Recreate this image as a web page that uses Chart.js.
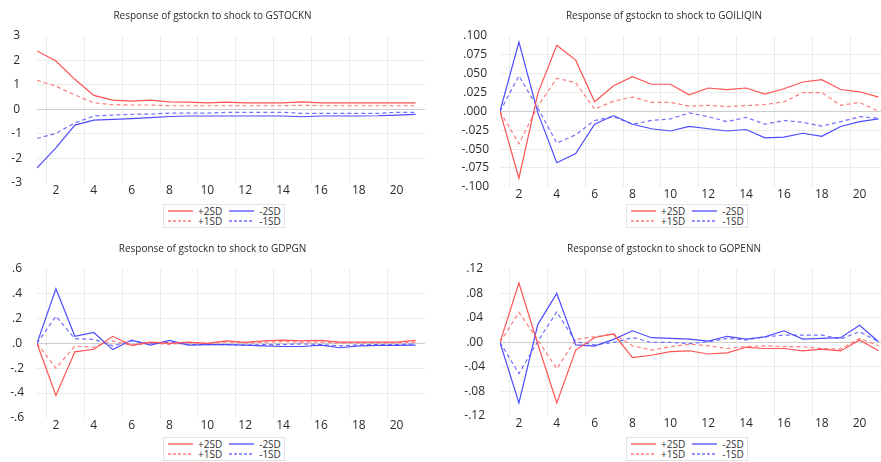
<!DOCTYPE html>
<html>
<head>
<meta charset="utf-8">
<title>Response of gstockn to shocks</title>
<script src="https://cdn.jsdelivr.net/npm/chart.js@4.4.1/dist/chart.umd.min.js"></script>
<style>
    body { margin: 0; background: #fff; font-family: "Open Sans", sans-serif; }
    #page { position: relative; width: 881px; height: 462px; overflow: hidden; }
    .panel { position: absolute; height: 230px; }
    .chart-box { position: relative; width: 100%; height: 205px; }
    .legend {
        position: absolute; top: 204px;
        border: 1px solid #e3e3e3; padding: 1px 3px 1px 4px; background: #fff;
        display: grid; grid-template-columns: auto auto; column-gap: 7px;
        font-size: 10px; line-height: 10px; color: #333;
    }
    .legend-item { display: flex; align-items: center; white-space: nowrap; }
    .legend-item svg { margin-right: 5px; }
</style>
</head>
<body>
<div id="page">
    <div class="panel" style="left:0;top:0;width:450px;">
        <div class="chart-box"><canvas id="chartStock"></canvas></div>
        <div class="legend" id="legendStock" style="left:163px;"></div>
    </div>
    <div class="panel" style="left:440px;top:0;width:498px;">
        <div class="chart-box"><canvas id="chartOil"></canvas></div>
        <div class="legend" id="legendOil" style="left:186px;"></div>
    </div>
    <div class="panel" style="left:0;top:233px;width:450px;">
        <div class="chart-box"><canvas id="chartGdp"></canvas></div>
        <div class="legend" id="legendGdp" style="left:163px;"></div>
    </div>
    <div class="panel" style="left:440px;top:233px;width:498px;">
        <div class="chart-box"><canvas id="chartOpen"></canvas></div>
        <div class="legend" id="legendOpen" style="left:186px;"></div>
    </div>
</div>

<script>
// periods (horizon)
const periods = [1, 2, 3, 4, 5, 6, 7, 8, 9, 10, 11, 12, 13, 14, 15, 16, 17, 18, 19, 20, 21];

// Response to GSTOCKN
const stockUp2 = [2.39, 1.98, 1.23, 0.57, 0.38, 0.34, 0.38, 0.31, 0.30, 0.27, 0.30, 0.27, 0.27, 0.27, 0.31, 0.27, 0.27, 0.27, 0.27, 0.27, 0.27];
const stockUp1 = [1.19, 0.95, 0.59, 0.27, 0.19, 0.18, 0.18, 0.15, 0.15, 0.15, 0.15, 0.15, 0.15, 0.15, 0.17, 0.15, 0.15, 0.15, 0.15, 0.15, 0.15];
const stockDn1 = [-1.19, -0.98, -0.55, -0.27, -0.23, -0.20, -0.19, -0.15, -0.15, -0.15, -0.12, -0.12, -0.12, -0.12, -0.16, -0.16, -0.16, -0.16, -0.16, -0.12, -0.12];
const stockDn2 = [-2.39, -1.57, -0.64, -0.44, -0.41, -0.38, -0.34, -0.29, -0.27, -0.27, -0.27, -0.27, -0.27, -0.27, -0.30, -0.27, -0.27, -0.27, -0.26, -0.23, -0.20];

// Response to GOILIQIN
const oilUp2 = [0, -0.0886, 0.024, 0.0877, 0.068, 0.0127, 0.034, 0.046, 0.036, 0.036, 0.022, 0.031, 0.029, 0.031, 0.023, 0.030, 0.039, 0.042, 0.029, 0.026, 0.019];
const oilUp1 = [0, -0.043, 0.007, 0.044, 0.038, 0.003, 0.0136, 0.019, 0.012, 0.012, 0.007, 0.008, 0.0064, 0.0077, 0.009, 0.0127, 0.025, 0.025, 0.008, 0.012, 0];
const oilDn1 = [0, 0.047, 0.0045, -0.042, -0.031, -0.012, -0.007, -0.017, -0.012, -0.010, -0.002, -0.007, -0.0136, -0.008, -0.017, -0.012, -0.0145, -0.0195, -0.0136, -0.007, -0.009];
const oilDn2 = [0, 0.092, -0.002, -0.068, -0.056, -0.017, -0.0055, -0.017, -0.023, -0.026, -0.020, -0.023, -0.026, -0.024, -0.035, -0.034, -0.029, -0.033, -0.020, -0.0136, -0.010];

// Response to GDPGN
const gdpUp2 = [0, -0.42, -0.068, -0.047, 0.057, -0.016, 0.01, 0, 0.01, 0, 0.02, 0.008, 0.02, 0.027, 0.02, 0.025, 0.01, 0.01, 0.01, 0.01, 0.025];
const gdpUp1 = [0, -0.20, -0.022, -0.03, 0.02, -0.016, 0.005, -0.008, 0.005, 0, 0.01, 0.005, 0.01, 0.014, 0.01, 0.01, 0.003, 0.005, 0.005, 0.005, 0.01];
const gdpDn1 = [0, 0.22, 0.038, 0.033, -0.02, 0.02, 0, 0.01, -0.01, -0.01, -0.01, -0.014, -0.01, -0.01, -0.004, -0.01, -0.02, -0.011, -0.01, -0.01, -0.004];
const gdpDn2 = [0, 0.44, 0.057, 0.088, -0.05, 0.027, -0.014, 0.025, -0.014, -0.01, -0.01, -0.014, -0.02, -0.025, -0.025, -0.014, -0.035, -0.02, -0.016, -0.016, -0.014];

// Response to GOPENN
const openUp2 = [0, 0.097, -0.003, -0.099, -0.0125, 0.008, 0.0137, -0.025, -0.021, -0.015, -0.0137, -0.019, -0.017, -0.008, -0.01, -0.01, -0.014, -0.011, -0.014, 0.004, -0.0137];
const openUp1 = [0, 0.049, 0.004, -0.043, 0.005, 0.009, 0.0137, -0.0055, -0.0125, -0.007, -0.003, -0.0055, -0.01, -0.007, -0.0055, -0.007, -0.007, -0.01, -0.011, 0.0066, -0.0055];
const openDn1 = [0, -0.051, 0.002, 0.05, 0.001, -0.004, 0, 0.008, 0, 0, -0.002, 0.001, 0.0066, 0.004, 0.009, 0.012, 0.012, 0.012, 0.0055, 0.0175, 0.001];
const openDn2 = [0, -0.099, 0.0295, 0.080, -0.004, -0.006, 0.005, 0.019, 0.0077, 0.0066, 0.0055, 0.002, 0.010, 0.0055, 0.009, 0.019, 0.0055, 0.0066, 0.0077, 0.028, 0.001];

document.addEventListener('DOMContentLoaded', function() {
    const themeColors = {
        red: '#ff5252',
        redLight: '#ff7d7d',
        blue: '#4c4cff',
        blueLight: '#7070ff',
        grid: '#ebebeb',
        zero: '#cdcdcd',
        text: '#2b2b2b'
    };
    const fontFamily = '"Open Sans", sans-serif';

    // HTML legend, two columns, built from the chart's datasets
    const htmlLegendPlugin = {
        id: 'htmlLegend',
        afterUpdate(chart, args, options) {
            const box = document.getElementById(options.containerID);
            if (!box) return;
            box.innerHTML = '';
            chart.data.datasets.forEach(function(ds) {
                const dash = ds.borderDash ? ' stroke-dasharray="3 2"' : '';
                const item = document.createElement('div');
                item.className = 'legend-item';
                item.innerHTML = '<svg width="25" height="4"><line x1="0" y1="2" x2="25" y2="2" stroke="' +
                    ds.borderColor + '" stroke-width="1.3"' + dash + '/></svg><span>' + ds.label + '</span>';
                box.appendChild(item);
            });
        }
    };

    // EViews style numbers: .100, -.050, .0
    function fmt(decimals) {
        return function(v) {
            if (Math.abs(v) < 1e-9) v = 0;
            return Number(v).toFixed(decimals).replace(/^(-?)0\./, '$1.');
        };
    }

    function makeChart(canvasId, cfg) {
        const ctx = document.getElementById(canvasId);
        return new Chart(ctx, {
            type: 'line',
            data: {
                labels: periods,
                datasets: [
                    { label: '+2SD', data: cfg.up2, borderColor: themeColors.red, borderWidth: 1.2 },
                    { label: '-2SD', data: cfg.dn2, borderColor: themeColors.blue, borderWidth: 1.2 },
                    { label: '+1SD', data: cfg.up1, borderColor: themeColors.redLight, borderWidth: 1.2, borderDash: [4, 3] },
                    { label: '-1SD', data: cfg.dn1, borderColor: themeColors.blueLight, borderWidth: 1.2, borderDash: [4, 3] }
                ]
            },
            options: {
                responsive: true,
                maintainAspectRatio: false,
                animation: false,
                elements: { point: { radius: 0 }, line: { tension: 0, fill: false } },
                layout: { padding: { right: cfg.padRight, bottom: 0 } },
                plugins: {
                    legend: { display: false },
                    tooltip: { enabled: false },
                    title: {
                        display: true,
                        text: cfg.title,
                        color: themeColors.text,
                        font: { family: fontFamily, size: 10, weight: 'normal' },
                        padding: { top: 10, bottom: 14 }
                    },
                    htmlLegend: { containerID: cfg.legendId }
                },
                scales: {
                    x: {
                        type: 'linear',
                        min: 1,
                        max: 21.5,
                        afterBuildTicks: function(scale) {
                            const t = [];
                            for (let v = 1.5; v < 21; v += 2) t.push({ value: v });
                            for (let v = 2; v <= 20; v += 2) t.push({ value: v });
                            t.sort(function(a, b) { return a.value - b.value; });
                            scale.ticks = t;
                        },
                        grid: {
                            drawTicks: false,
                            color: function(c) {
                                return c.tick && c.tick.value % 1 !== 0 ? themeColors.grid : 'rgba(0,0,0,0)';
                            }
                        },
                        border: { display: false },
                        ticks: {
                            autoSkip: false,
                            maxRotation: 0,
                            padding: 1,
                            color: themeColors.text,
                            font: { family: fontFamily, size: 12 },
                            callback: function(v) { return v % 2 === 0 ? String(v) : ''; }
                        }
                    },
                    y: {
                        min: cfg.yMin,
                        max: cfg.yMax,
                        afterFit: function(scale) { scale.width = cfg.axisWidth; },
                        grid: {
                            drawTicks: false,
                            color: function(c) {
                                const v = c.tick ? c.tick.value : 0;
                                if (Math.abs(v) < 1e-9) return themeColors.zero;
                                if (Math.abs(v - cfg.yMin) < 1e-9 || Math.abs(v - cfg.yMax) < 1e-9) return 'rgba(0,0,0,0)';
                                return themeColors.grid;
                            }
                        },
                        border: { display: false },
                        ticks: {
                            stepSize: cfg.step,
                            crossAlign: 'center',
                            padding: cfg.tickPad,
                            color: themeColors.text,
                            font: { family: fontFamily, size: 12 },
                            callback: fmt(cfg.decimals)
                        }
                    }
                }
            },
            plugins: [htmlLegendPlugin]
        });
    }

    makeChart('chartStock', {
        title: 'Response of gstockn to shock to GSTOCKN', legendId: 'legendStock',
        up2: stockUp2, up1: stockUp1, dn1: stockDn1, dn2: stockDn2,
        yMin: -3, yMax: 3, step: 1, decimals: 0, axisWidth: 37, tickPad: 15, padRight: 25
    });
    makeChart('chartOil', {
        title: 'Response of gstockn to shock to GOILIQIN', legendId: 'legendOil',
        up2: oilUp2, up1: oilUp1, dn1: oilDn1, dn2: oilDn2,
        yMin: -0.1, yMax: 0.1, step: 0.025, decimals: 3, axisWidth: 60, tickPad: 11, padRight: 50
    });
    makeChart('chartGdp', {
        title: 'Response of gstockn to shock to GDPGN', legendId: 'legendGdp',
        up2: gdpUp2, up1: gdpUp1, dn1: gdpDn1, dn2: gdpDn2,
        yMin: -0.6, yMax: 0.6, step: 0.2, decimals: 1, axisWidth: 37, tickPad: 13, padRight: 25
    });
    makeChart('chartOpen', {
        title: 'Response of gstockn to shock to GOPENN', legendId: 'legendOpen',
        up2: openUp2, up1: openUp1, dn1: openDn1, dn2: openDn2,
        yMin: -0.12, yMax: 0.12, step: 0.04, decimals: 2, axisWidth: 60, tickPad: 15, padRight: 50
    });
});
</script>
</body>
</html>
